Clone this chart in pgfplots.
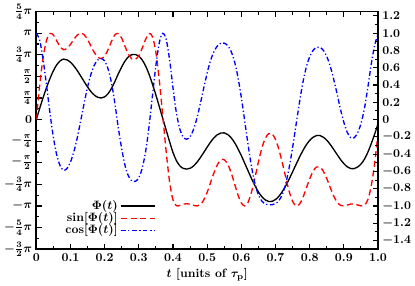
\documentclass[border=0pt]{standalone}
\usepackage{pgfplots}
\pgfplotsset{compat=1.18}
\usepackage{pgfplotstable}
\pgfplotstableread{
t phi s c
0.00 0 0 1
0.01 0.13 0.397 0.918
0.02 0.255 0.718 0.695
0.03 0.37 0.918 0.397
0.04 0.475 0.997 0.078
0.05 0.565 0.979 -0.203
0.06 0.635 0.911 -0.412
0.07 0.68 0.844 -0.536
0.08 0.70 0.809 -0.588
0.09 0.691 0.825 -0.565
0.10 0.664 0.870 -0.492
0.11 0.621 0.929 -0.371
0.12 0.567 0.978 -0.210
0.13 0.504 1.000 -0.013
0.14 0.440 0.982 0.187
0.15 0.378 0.927 0.375
0.16 0.324 0.851 0.525
0.17 0.283 0.776 0.631
0.18 0.258 0.724 0.690
0.19 0.25 0.707 0.707
0.20 0.263 0.735 0.679
0.21 0.30 0.809 0.588
0.22 0.36 0.905 0.426
0.23 0.44 0.982 0.187
0.24 0.53 0.996 -0.094
0.25 0.61 0.941 -0.339
0.26 0.68 0.844 -0.536
0.27 0.728 0.755 -0.656
0.28 0.752 0.702 -0.712
0.29 0.754 0.698 -0.716
0.30 0.735 0.740 -0.673
0.31 0.69 0.827 -0.562
0.32 0.62 0.930 -0.368
0.33 0.525 0.997 -0.078
0.34 0.41 0.960 0.279
0.35 0.285 0.780 0.625
0.36 0.15 0.454 0.891
0.37 0.015 0.047 0.999
0.38 -0.12 -0.368 0.930
0.39 -0.255 -0.718 0.695
0.40 -0.38 -0.930 0.368
0.41 -0.475 -0.997 0.078
0.42 -0.535 -0.994 -0.110
0.43 -0.565 -0.979 -0.203
0.44 -0.573 -0.974 -0.227
0.45 -0.564 -0.980 -0.199
0.46 -0.537 -0.993 -0.116
0.47 -0.495 -1.000 0.016
0.48 -0.441 -0.983 0.184
0.49 -0.381 -0.931 0.365
0.50 -0.319 -0.843 0.539
0.51 -0.260 -0.729 0.685
0.52 -0.211 -0.616 0.788
0.53 -0.175 -0.522 0.853
0.54 -0.155 -0.468 0.884
0.55 -0.154 -0.465 0.885
0.56 -0.172 -0.515 0.857
0.57 -0.210 -0.613 0.790
0.58 -0.265 -0.740 0.673
0.59 -0.336 -0.870 0.492
0.60 -0.417 -0.966 0.257
0.61 -0.506 -1.000 -0.019
0.62 -0.596 -0.955 -0.297
0.63 -0.685 -0.836 -0.549
0.64 -0.766 -0.670 -0.742
0.65 -0.837 -0.489 -0.872
0.66 -0.892 -0.332 -0.943
0.67 -0.930 -0.218 -0.976
0.68 -0.948 -0.163 -0.987
0.69 -0.947 -0.165 -0.986
0.70 -0.926 -0.230 -0.973
0.71 -0.887 -0.347 -0.938
0.72 -0.833 -0.502 -0.865
0.73 -0.766 -0.670 -0.742
0.74 -0.688 -0.831 -0.556
0.75 -0.605 -0.946 -0.324
0.76 -0.520 -0.998 -0.063
0.77 -0.437 -0.981 0.196
0.78 -0.360 -0.905 0.426
0.79 -0.293 -0.795 0.606
0.80 -0.241 -0.687 0.727
0.81 -0.204 -0.598 0.802
0.82 -0.185 -0.549 0.836
0.83 -0.185 -0.549 0.836
0.84 -0.204 -0.598 0.802
0.85 -0.239 -0.682 0.731
0.86 -0.287 -0.785 0.620
0.87 -0.344 -0.882 0.471
0.88 -0.403 -0.954 0.301
0.89 -0.461 -0.993 0.122
0.90 -0.510 -1.000 -0.031
0.91 -0.547 -0.989 -0.148
0.92 -0.567 -0.978 -0.210
0.93 -0.568 -0.977 -0.211
0.94 -0.55 -0.988 -0.156
0.95 -0.515 -0.999 -0.047
0.96 -0.46 -0.992 0.125
0.97 -0.38 -0.930 0.368
0.98 -0.28 -0.771 0.637
0.99 -0.17 -0.509 0.861
1.00 -0.05 -0.156 0.988
}\datatable

\begin{document}
\bfseries\boldmath
\begin{tikzpicture}
\begin{axis}[
  scale only axis, width=282pt, height=196pt,
  xmin=0, xmax=1, ymin=-1.5, ymax=1.25,
  xtick={0,0.1,0.2,0.3,0.4,0.5,0.6,0.7,0.8,0.9,1},
  xticklabels={0,0.1,0.2,0.3,0.4,0.5,0.6,0.7,0.8,0.9,1.0},
  minor x tick num=1,
  ytick={-1.5,-1.25,-1,-0.75,-0.5,-0.25,0,0.25,0.5,0.75,1,1.25},
  yticklabels={$-\frac{3}{2}\pi$,$-\frac{5}{4}\pi$,$-\pi$,$-\frac{3}{4}\pi$,$-\frac{\pi}{2}$,$-\frac{\pi}{4}$,$0$,$\frac{\pi}{4}$,$\frac{\pi}{2}$,$\frac{3}{4}\pi$,$\pi$,$\frac{5}{4}\pi$},
  minor y tick num=1,
  ytick pos=left,
  tick align=inside,
  major tick length=4.5pt, minor tick length=2.5pt,
  every tick/.style={black, line width=0.9pt},
  axis line style={line width=1.3pt},
  tick label style={font=\bfseries\boldmath},
  label style={font=\bfseries\boldmath},
  xlabel={$t$ [units of $\tau_{\mathrm{p}}$]},
  xlabel style={yshift=1pt},
  legend cell align=right,
  legend plot pos=right,
  legend image code/.code={\draw[mark repeat=2,mark phase=2] plot coordinates {(0pt,0pt) (14pt,0pt) (28pt,0pt)};},
  legend style={draw=none, fill=none, at={(0.36,0.035)}, anchor=south east,
    font=\bfseries\boldmath, row sep=-3pt},
]
\addplot[black, line width=1.1pt, smooth] table[x=t,y=phi]{\datatable};
\addplot[red, line width=1.1pt, smooth, dash pattern=on 5pt off 3pt] table[x=t,y=s]{\datatable};
\addplot[blue, line width=1.1pt, smooth, dash pattern=on 4pt off 2pt on 1pt off 2pt] table[x=t,y=c]{\datatable};
\legend{$\Phi(t)$,$\sin[\Phi(t)]$,$\cos[\Phi(t)]$}
\end{axis}
\begin{axis}[
  scale only axis, width=282pt, height=196pt,
  xmin=0, xmax=1, ymin=-1.5, ymax=1.25,
  hide x axis,
  axis y line*=right,
  ytick={-1.4,-1.2,-1,-0.8,-0.6,-0.4,-0.2,0,0.2,0.4,0.6,0.8,1,1.2},
  yticklabels={$-1.4$,$-1.2$,$-1.0$,$-0.8$,$-0.6$,$-0.4$,$-0.2$,$0$,$0.2$,$0.4$,$0.6$,$0.8$,$1.0$,$1.2$},
  minor y tick num=1,
  tick align=inside,
  major tick length=4.5pt, minor tick length=2.5pt,
  every tick/.style={black, line width=0.9pt},
  axis line style={line width=1.3pt},
  tick label style={font=\bfseries\boldmath},
]
\end{axis}
\end{tikzpicture}
\end{document}
